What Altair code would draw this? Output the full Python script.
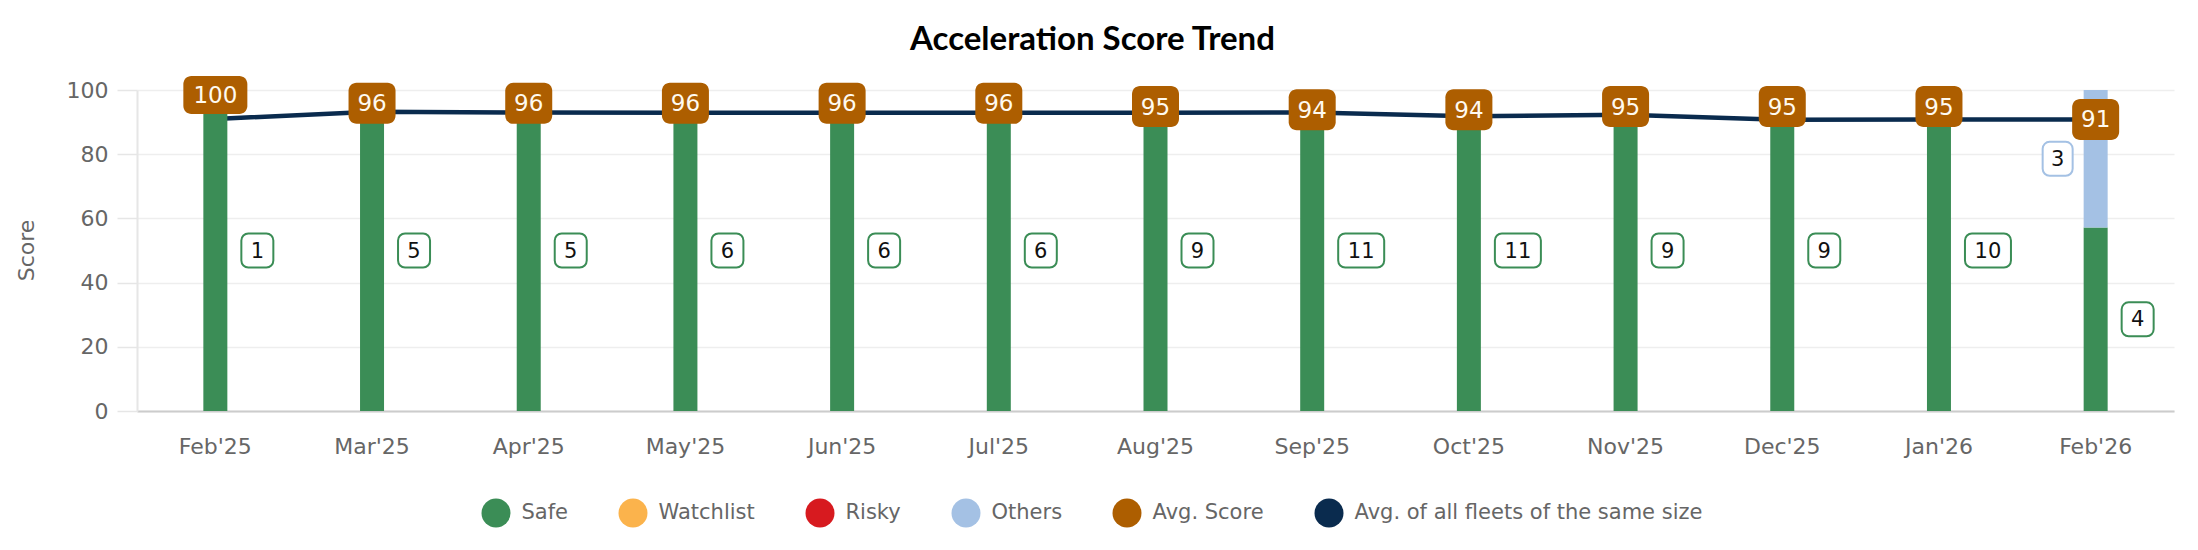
import altair as alt
import pandas as pd

# ---- data ----
months = ["Feb'25", "Mar'25", "Apr'25", "May'25", "Jun'25", "Jul'25", "Aug'25",
          "Sep'25", "Oct'25", "Nov'25", "Dec'25", "Jan'26", "Feb'26"]
safe = [1, 5, 5, 6, 6, 6, 9, 11, 11, 9, 9, 10, 4]
watchlist = [0, 0, 0, 0, 0, 0, 0, 0, 0, 0, 0, 0, 0]
risky = [0, 0, 0, 0, 0, 0, 0, 0, 0, 0, 0, 0, 0]
others = [0, 0, 0, 0, 0, 0, 0, 0, 0, 0, 0, 0, 3]
avg_score = [100, 96, 96, 96, 96, 96, 95, 94, 94, 95, 95, 95, 91]
fleet_avg = [91.0, 93.2, 93.0, 92.9, 92.9, 92.9, 92.9, 93.0, 91.8, 92.3, 90.7, 90.8, 90.8]

categories = ["Safe", "Watchlist", "Risky", "Others"]
legend_names = categories + ["Avg. Score", "Avg. of all fleets of the same size"]
GREEN, YELLOW, RED, LBLUE, BROWN, NAVY = "#3b8d56", "#fbb34c", "#d71a1f", "#a4c1e4", "#ad5e00", "#0a2b4e"
legend_colors = [GREEN, YELLOW, RED, LBLUE, BROWN, NAVY]

rows = []
for i, m in enumerate(months):
    for cat, arr in zip(categories, [safe, watchlist, risky, others]):
        rows.append({"month": m, "category": cat, "count": arr[i]})
bars_df = pd.DataFrame(rows)
score_df = pd.DataFrame({"month": months, "score": avg_score, "fleet": fleet_avg})

FONT = "DejaVu Sans"
yscale = alt.Scale(domain=[0, 100], nice=False, zero=True)
X = alt.X("month:N", sort=months,
          scale=alt.Scale(domain=months, paddingInner=0, paddingOuter=0),
          title=None)

base = (alt.Chart(bars_df)
        .transform_joinaggregate(total="sum(count)", groupby=["month"])
        .transform_calculate(
            pct="datum.count / datum.total * 100",
            ord="indexof(['Safe','Watchlist','Risky','Others'], datum.category)")
        .transform_stack(stack="pct", groupby=["month"], as_=["y0", "y1"],
                         sort=[alt.SortField("ord", order="ascending")])
        .transform_calculate(mid="(datum.y0 + datum.y1) / 2"))

bars = base.mark_bar(size=24).encode(
    x=X,
    y=alt.Y("y0:Q", scale=yscale, title="Score",
            axis=alt.Axis(values=[0, 20, 40, 60, 80, 100])),
    y2="y1:Q",
    color=alt.Color("category:N",
                    scale=alt.Scale(domain=legend_names, range=legend_colors),
                    legend=alt.Legend(title=None)),
)

labels = base.transform_filter("datum.count > 0")


def count_box(flt, width, xoff, stroke):
    sub = labels.transform_filter(flt)
    box = sub.mark_bar(width=width, xOffset=xoff, yOffset=-17, y2Offset=17,
                       cornerRadius=7, fill="white", stroke=stroke,
                       strokeWidth=2).encode(
        x=X, y=alt.Y("mid:Q", scale=yscale), y2="mid:Q")
    txt = sub.mark_text(xOffset=xoff, dy=1, font=FONT, fontSize=21, color="#111111",
                        align="center", baseline="middle").encode(
        x=X, y=alt.Y("mid:Q", scale=yscale), text="count:Q")
    return [box, txt]


layers_counts = (count_box("datum.category == 'Safe' && datum.count < 10", 32, 42, GREEN)
                 + count_box("datum.category == 'Safe' && datum.count >= 10", 46, 49, GREEN)
                 + count_box("datum.category == 'Others'", 30, -38, LBLUE))

line = alt.Chart(score_df).mark_line(color=NAVY, strokeWidth=4.5).encode(
    x=X, y=alt.Y("fleet:Q", scale=yscale))


def score_box(flt, width, top, bottom):
    sub = alt.Chart(score_df).transform_filter(flt)
    box = sub.mark_bar(width=width, yOffset=top, y2Offset=bottom, cornerRadius=8,
                       fill=BROWN).encode(
        x=X, y=alt.Y("score:Q", scale=yscale), y2="score:Q")
    txt = sub.mark_text(dy=(top + bottom) / 2 + 1, font=FONT, fontSize=23,
                        color="#fffaf0", align="center", baseline="middle").encode(
        x=X, y=alt.Y("score:Q", scale=yscale), text="score:Q")
    return [box, txt]


layers_scores = (score_box("datum.score >= 100", 64, -14, 24)
                 + score_box("datum.score < 100", 47, -20, 21))

chart = alt.layer(line, bars, *layers_counts, *layers_scores).properties(
    width=2037, height=321,
    autosize=alt.AutoSizeParams(type="none"),
    padding={"left": 129, "top": 82, "right": 16, "bottom": 125},
    title=alt.TitleParams("Acceleration Score Trend", font="Lato", fontSize=33,
                          fontWeight="bold", color="black", anchor="middle",
                          frame="group", dx=-63, dy=27, baseline="alphabetic",
                          offset=20),
).configure_view(stroke=None).configure_axisY(
    labelFont=FONT, labelFontSize=22, labelColor="#666666", labelPadding=9,
    gridColor="#eeeeee", gridWidth=1.5, tickColor="#e6e6e6", tickSize=20,
    tickWidth=1.5, domainColor="#e6e6e6", domainWidth=2,
    titleFont=FONT, titleFontSize=22, titleColor="#666666", titleFontWeight="normal",
    titleX=-104, titleY=160, titleBaseline="alphabetic", titleAngle=270,
).configure_axisX(
    labelFont=FONT, labelFontSize=22, labelColor="#666666", ticks=False, tickSize=0,
    labelPadding=35, labelBaseline="middle", labelAngle=0,
    domainColor="#cccccc", domainWidth=2, grid=False,
).configure_legend(
    orient="none", legendX=344.5, legendY=408.5, direction="horizontal",
    symbolType="circle", symbolSize=841, symbolStrokeWidth=0, symbolOpacity=1,
    labelFont=FONT, labelFontSize=21, labelColor="#666666", labelOffset=11,
    columnPadding=50, labelLimit=600, padding=0,
)

chart.save("out.html", embed_options={"renderer": "svg", "actions": False})
